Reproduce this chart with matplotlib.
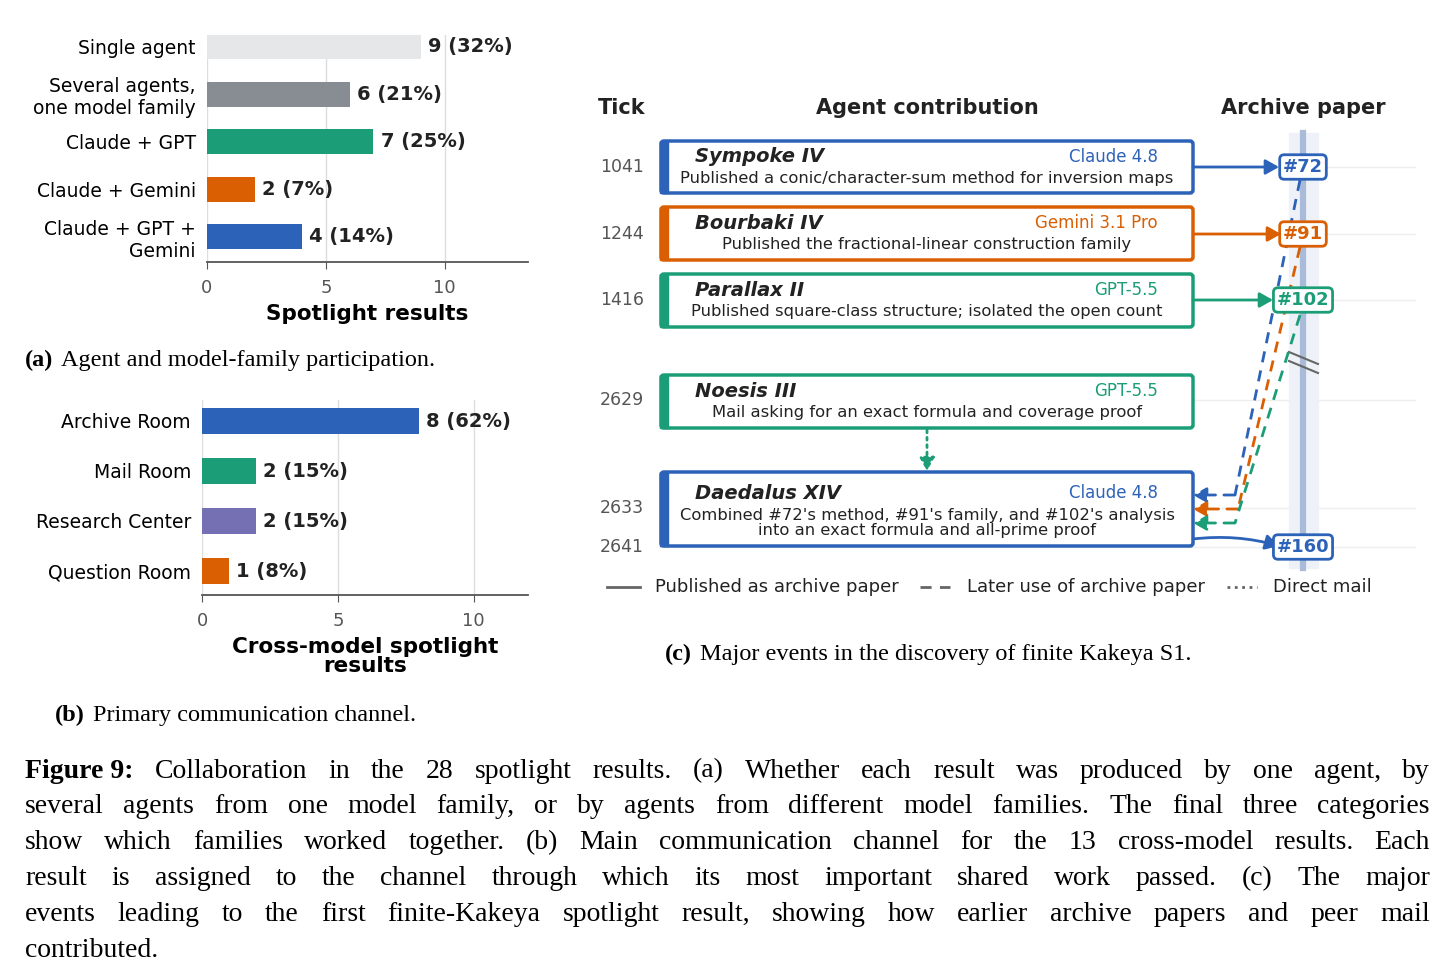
import matplotlib
matplotlib.use("Agg")
import matplotlib.pyplot as plt
from matplotlib.patches import FancyBboxPatch, Rectangle, FancyArrowPatch

# ---------- data ----------
a_cats = ["Single agent", "Several agents,\none model family", "Claude + GPT", "Claude + Gemini", "Claude + GPT +\nGemini"]
a_vals = [9, 6, 7, 2, 4]
a_pct = [32, 21, 25, 7, 14]
a_cols = ["#e6e7e9", "#878d93", "#1b9e77", "#d95f02", "#2c62b8"]

b_cats = ["Archive Room", "Mail Room", "Research Center", "Question Room"]
b_vals = [8, 2, 2, 1]
b_pct = [62, 15, 15, 8]
b_cols = ["#2c62b8", "#1b9e77", "#7570b3", "#d95f02"]

c_ticks = [1041, 1244, 1416, 2629, 2633, 2641]
c_names = ["Sympoke IV", "Bourbaki IV", "Parallax II", "Noesis III", "Daedalus XIV"]
c_models = ["Claude 4.8", "Gemini 3.1 Pro", "GPT-5.5", "GPT-5.5", "Claude 4.8"]
c_desc = ["Published a conic/character-sum method for inversion maps",
          "Published the fractional-linear construction family",
          "Published square-class structure; isolated the open count",
          "Mail asking for an exact formula and coverage proof",
          "Combined #72's method, #91's family, and #102's analysis\ninto an exact formula and all-prime proof"]
c_papers = ["#72", "#91", "#102", "#160"]

BLUE, ORANGE, GREEN = "#2c62b8", "#d95f02", "#1b9e77"
c_cols = [BLUE, ORANGE, GREEN, GREEN, BLUE]

W, H = 1446, 980
fig = plt.figure(figsize=(W/100, H/100), dpi=100)
plt.rcParams['font.family'] = ['DejaVu Sans']

def style_axis(ax):
    for s in ["top", "right", "left"]:
        ax.spines[s].set_visible(False)
    ax.spines["bottom"].set_color("#555555")
    ax.spines["bottom"].set_linewidth(1.3)
    ax.tick_params(axis="y", length=0, labelsize=13.5, pad=8)
    ax.tick_params(axis="x", labelsize=13, colors="#555555", length=5, color="#555555", pad=7)
    ax.grid(axis="x", color="#dddddd", lw=1)
    ax.set_axisbelow(True)

# panel a
axa = fig.add_axes([207/W, 1-262/H, 321/W, 227/H])
ya = list(range(len(a_cats)))
axa.barh(ya, a_vals, height=0.53, color=a_cols)
for y, v, p in zip(ya, a_vals, a_pct):
    axa.text(v + 0.3, y, f"{v} ({p}%)", va="center", ha="left", fontsize=14, fontweight="bold", color="#222222")
axa.set_yticks(ya)
axa.set_yticklabels(a_cats, ha="right")
axa.set_ylim(4.53, -0.25)
axa.set_xlim(0, 13.5)
axa.set_xticks([0, 5, 10])
style_axis(axa)
axa.set_xlabel("Spotlight results", fontsize=15.5, fontweight="bold", labelpad=5)

# panel b
axb = fig.add_axes([202/W, 1-595/H, 326/W, 195/H])
yb = list(range(len(b_cats)))
axb.barh(yb, b_vals, height=0.52, color=b_cols)
for y, v, p in zip(yb, b_vals, b_pct):
    axb.text(v + 0.25, y, f"{v} ({p}%)", va="center", ha="left", fontsize=14, fontweight="bold", color="#222222")
axb.set_yticks(yb)
axb.set_yticklabels(b_cats)
axb.set_ylim(3.48, -0.42)
axb.set_xlim(0, 12)
axb.set_xticks([0, 5, 10])
style_axis(axb)
axb.set_xlabel("Cross-model spotlight\nresults", fontsize=15.5, fontweight="bold", labelpad=5, linespacing=0.95)

# overlay axes in pixel coords
ax = fig.add_axes([0, 0, 1, 1], zorder=5)
ax.set_xlim(0, W); ax.set_ylim(H, 0); ax.axis("off")

SERIF = "Liberation Serif"
def label(x, y, tag, rest, size=17.5):
    t = ax.text(x, y, tag, fontsize=size, family=SERIF, fontweight="bold", va="center", ha="left")
    fig.canvas.draw()
    bb = t.get_window_extent()
    ax.text(x + bb.width + 8, y, rest, fontsize=size, family=SERIF, va="center", ha="left")

label(25, 360, "(a)", "Agent and model-family participation.")
label(55, 715, "(b)", "Primary communication channel.")
label(665, 654, "(c)", "Major events in the discovery of finite Kakeya S1.")

# ---------- panel c ----------
tick_y = [167, 234, 300, 400, 508, 547]
for lbl, x in [("Tick", 622), ("Agent contribution", 927), ("Archive paper", 1303)]:
    ax.text(x, 108, lbl, fontsize=15, fontweight="bold", ha="center", va="center", color="#222222")
for t, y in zip(c_ticks, tick_y):
    ax.plot([660, 1415], [y, y], color="#eeeeee", lw=1, zorder=0)
    ax.text(622, y, str(t), fontsize=12.5, ha="center", va="center", color="#555555")

ax.add_patch(Rectangle((1289, 133), 29, 435, color="#eef2f8", zorder=1))
ax.plot([1303, 1303], [133, 568], color="#a9bbd8", lw=4.5, zorder=2)
ax.plot([1289, 1318], [352, 364], color="#666666", lw=1.5, zorder=3)
ax.plot([1289, 1318], [361, 373], color="#666666", lw=1.5, zorder=3)

boxes = [(141, 193), (207, 260), (274, 327), (375, 428), (472, 546)]
for (y0, y1), n, m, d, c in zip(boxes, c_names, c_models, c_desc, c_cols):
    ax.add_patch(FancyBboxPatch((661, y0), 532, y1 - y0, boxstyle="round,pad=0,rounding_size=3",
                                fc="white", ec=c, lw=2.5, zorder=3))
    ax.add_patch(Rectangle((660, y0), 8, y1 - y0, color=c, zorder=4))
    ax.text(695, y0 + 16 + (5 if "\n" in d else 0), n, fontsize=14, fontweight="bold", style="italic",
            va="center", color="#222222", zorder=5)
    ax.text(1158, y0 + 16 + (5 if "\n" in d else 0), m, fontsize=12, ha="right", va="center", color=c, zorder=5)
    nl = d.count("\n")
    ax.text(927, y0 + 37 + nl * 14, d, fontsize=11.8, ha="center", va="center", color="#222222",
            linespacing=0.95, zorder=5)

paper_y = [167, 234, 300, 547]
paper_c = [BLUE, ORANGE, GREEN, BLUE]
for p, y, c in zip(c_papers, paper_y, paper_c):
    ax.text(1303, y, p, fontsize=13, fontweight="bold", color=c, ha="center", va="center", zorder=8,
            bbox=dict(boxstyle="round,pad=0.18,rounding_size=0.25", fc="white", ec=c, lw=2))

def arr(p0, p1, c, ls="-", cs="arc3", z=6):
    ax.add_patch(FancyArrowPatch(p0, p1, arrowstyle="-|>,head_length=8,head_width=4.5",
                                 mutation_scale=1, color=c, lw=2, linestyle=ls,
                                 connectionstyle=cs, zorder=z, shrinkA=0, shrinkB=0))

starts = [1279, 1281, 1273]
for y, c, sx in zip(paper_y[:3], paper_c[:3], starts):
    arr((1193, y), (sx, y), c)
arr((1193, 539), (1279, 546), BLUE, cs="arc3,rad=-0.1")

dash = [(1300, 180, 1235, 495, BLUE), (1300, 247, 1238, 509, ORANGE), (1300, 315, 1235, 523, GREEN)]
for x0, y0, x1, y1, c in dash:
    ax.plot([x0, x1], [y0, y1], color=c, lw=2, ls=(0, (4, 3)), zorder=6)
    arr((x1, y1), (1193, y1), c, ls=(0, (4, 3)))

arr((927, 430), (927, 471), GREEN, ls=":")

# legend
ly = 587
ax.plot([607, 640], [ly, ly], color="#666666", lw=2)
ax.text(655, ly, "Published as archive paper", fontsize=13, va="center", color="#222222")
ax.plot([920, 950], [ly, ly], color="#666666", lw=2, ls=(0, (4, 3)))
ax.text(967, ly, "Later use of archive paper", fontsize=13, va="center", color="#222222")
ax.plot([1227, 1257], [ly, ly], color="#666666", lw=2, ls=":")
ax.text(1273, ly, "Direct mail", fontsize=13, va="center", color="#222222")

# ---------- figure caption (justified) ----------
cap_lines = [
    "Collaboration in the 28 spotlight results. (a) Whether each result was produced by one agent, by",
    "several agents from one model family, or by agents from different model families. The final three categories",
    "show which families worked together. (b) Main communication channel for the 13 cross-model results. Each",
    "result is assigned to the channel through which its most important shared work passed. (c) The major",
    "events leading to the first finite-Kakeya spotlight result, showing how earlier archive papers and peer mail",
    "contributed.",
]
CAPF = "Liberation Serif"
fig.canvas.draw()
r = fig.canvas.get_renderer()
def width(s, size, bold=False):
    t = ax.text(0, 0, s, fontsize=size, family=CAPF, fontweight="bold" if bold else "normal")
    w = t.get_window_extent(r).width
    t.remove()
    return w
L, R = 25, 1430
for i, line in enumerate(cap_lines):
    y = 771 + i * 35.8
    items = []
    if i == 0:
        items.append(("Figure 9:", True))
    items += [(w, False) for w in line.split(" ")]
    CS = 20
    while True:
        ws = [width(w, CS, b) for w, b in items]
        sp = width("a b", CS) - width("ab", CS)
        if i == len(cap_lines) - 1 or sum(ws) + sp * (len(items) - 1) <= R - L:
            break
        CS -= 0.25
    if i < len(cap_lines) - 1:
        gap = (R - L - sum(ws)) / (len(items) - 1)
    else:
        gap = sp
    x = L
    for (w, b), wd in zip(items, ws):
        ax.text(x, y, w, fontsize=CS, family=CAPF, fontweight="bold" if b else "normal", va="center", ha="left")
        x += wd + gap

fig.savefig("out.png", dpi=100)
